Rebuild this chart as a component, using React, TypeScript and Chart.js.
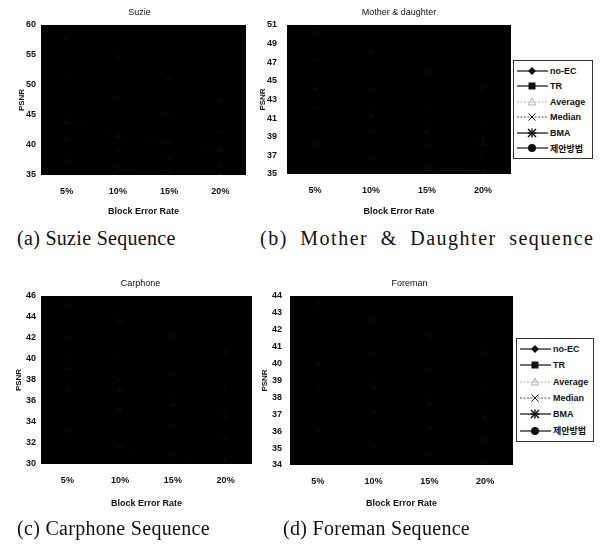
import React, { useEffect, useRef } from "react";
import { Chart, registerables } from "chart.js";
Chart.register(...registerables);

// ---------- data ----------
const categories = ["5%", "10%", "15%", "20%"];
const seriesNames = ["no-EC", "TR", "Average", "Median", "BMA", "제안방법"];

const suzieNoEC = [37.5, 36.2, 35.7, 35.3];
const suzieTR = [41.0, 39.2, 37.9, 36.6];
const suzieAverage = [43.8, 41.4, 40.4, 39.2];
const suzieMedian = [44.6, 41.9, 40.9, 39.6];
const suzieBMA = [51.5, 47.8, 45.0, 42.2];
const suzieProposed = [57.8, 54.6, 51.2, 47.4];

const motherNoEC = [38.2, 36.6, 35.8, 35.3];
const motherTR = [42.0, 39.6, 38.1, 37.0];
const motherAverage = [44.1, 41.2, 39.5, 38.2];
const motherMedian = [45.0, 42.1, 40.2, 38.8];
const motherBMA = [47.2, 44.1, 42.2, 40.5];
const motherProposed = [50.2, 48.1, 46.0, 44.1];

const carphoneNoEC = [33.1, 31.6, 30.8, 30.3];
const carphoneTR = [37.0, 35.1, 33.6, 32.5];
const carphoneAverage = [39.1, 37.0, 35.6, 34.5];
const carphoneMedian = [40.0, 38.0, 36.5, 35.1];
const carphoneBMA = [42.1, 40.0, 38.6, 37.1];
const carphoneProposed = [45.1, 43.6, 42.1, 40.6];

const foremanNoEC = [36.1, 35.1, 34.6, 34.2];
const foremanTR = [38.6, 37.1, 36.2, 35.5];
const foremanAverage = [40.0, 38.6, 37.6, 36.8];
const foremanMedian = [40.6, 39.1, 38.1, 37.2];
const foremanBMA = [42.1, 40.6, 39.6, 38.6];
const foremanProposed = [43.6, 42.6, 41.6, 40.6];

const suzieTicks = { min: 35, max: 60, step: 5 };
const motherTicks = { min: 35, max: 51, step: 2 };
const carphoneTicks = { min: 30, max: 46, step: 2 };
const foremanTicks = { min: 34, max: 44, step: 1 };

// ---------- styles ----------
const seriesStyles = [
  { color: "#060606", dash: [], point: "rectRot" },
  { color: "#060606", dash: [], point: "rect" },
  { color: "#0a0a0a", dash: [2, 2], point: "triangle" },
  { color: "#080808", dash: [2, 2], point: "crossRot" },
  { color: "#060606", dash: [], point: "star" },
  { color: "#060606", dash: [], point: "circle" },
];

const SANS = "'Liberation Sans', Arial, 'Noto Sans CJK KR', sans-serif";
Chart.defaults.font.family = SANS;
Chart.defaults.color = "#111";

const panelPlugin = {
  id: "panelDeco",
  beforeDatasetsDraw(chart: any) {
    const { ctx, chartArea: a } = chart;
    ctx.save();
    ctx.fillStyle = "#000";
    ctx.fillRect(a.left, a.top, a.right - a.left, a.bottom - a.top);
    ctx.restore();
  },
  afterDraw(chart: any, _args: any, opts: any) {
    const { ctx, chartArea: a } = chart;
    ctx.save();
    ctx.font = `9px ${SANS}`;
    ctx.fillStyle = "#111";
    ctx.textAlign = "center";
    ctx.textBaseline = "middle";
    ctx.fillText(opts.text, (a.left + a.right) / 2 + (opts.dx || 0), a.top - 12);
    ctx.restore();
  },
};

type PanelProps = {
  left: number; top: number; width: number; height: number;
  areaLeft: number; areaRight: number; areaTop: number; areaBottom: number;
  yTitleCenter: number; yTickPad: number;
  title: string; titleDx?: number;
  series: number[][];
  ticks: { min: number; max: number; step: number };
};

function Panel(p: PanelProps) {
  const ref = useRef<HTMLCanvasElement>(null);
  useEffect(() => {
    if (!ref.current) return;
    const yW = p.areaLeft;
    const xH = p.height - p.areaBottom;
    const chart = new Chart(ref.current, {
      type: "line",
      data: {
        labels: categories,
        datasets: p.series.map((vals, i) => ({
          label: seriesNames[i],
          data: vals,
          borderColor: seriesStyles[i].color,
          backgroundColor: seriesStyles[i].color,
          borderDash: seriesStyles[i].dash,
          borderWidth: 1,
          pointStyle: seriesStyles[i].point as any,
          pointRadius: 3,
          tension: 0,
        })),
      },
      options: {
        animation: false,
        responsive: false,
        devicePixelRatio: 1,
        layout: { padding: { left: 0, top: p.areaTop, right: p.width - p.areaRight, bottom: 0 } },
        plugins: {
          legend: { display: false },
          tooltip: { enabled: false },
          panelDeco: { text: p.title, dx: p.titleDx || 0 },
        } as any,
        scales: {
          x: {
            type: "category",
            offset: true,
            grid: { display: false, drawTicks: false },
            border: { display: false },
            ticks: { padding: 11, font: { size: 9, weight: "bold" }, color: "#111" },
            title: { display: true, text: "Block Error Rate", font: { size: 9, weight: "bold" }, color: "#111", padding: { top: 0, bottom: 9 } },
            afterFit: (s: any) => { s.height = xH; },
          },
          y: {
            type: "linear",
            min: p.ticks.min,
            max: p.ticks.max,
            grid: { display: false, drawTicks: false },
            border: { display: false },
            ticks: { stepSize: p.ticks.step, padding: p.yTickPad, font: { size: 9, weight: "bold" }, color: "#111" },
            title: { display: true, text: "PSNR", font: { size: 8, weight: "bold" }, color: "#111", padding: { top: Math.max(0, p.yTitleCenter - 4.8), bottom: 0 } },
            afterFit: (s: any) => { s.width = yW; },
          },
        },
      },
      plugins: [panelPlugin as any],
    });
    return () => chart.destroy();
  }, []);
  return (
    <canvas
      ref={ref}
      width={p.width}
      height={p.height}
      style={{ position: "absolute", left: p.left, top: p.top, width: p.width, height: p.height }}
    />
  );
}

function Marker({ kind, color }: { kind: string; color: string }) {
  const cx = 16, cy = 6;
  switch (kind) {
    case "rectRot":
      return <polygon points={`${cx},${cy - 4} ${cx + 4},${cy} ${cx},${cy + 4} ${cx - 4},${cy}`} fill={color} />;
    case "rect":
      return <rect x={cx - 3.5} y={cy - 3.5} width={7} height={7} fill={color} />;
    case "triangle":
      return <polygon points={`${cx},${cy - 4} ${cx + 3.5},${cy + 3} ${cx - 3.5},${cy + 3}`} fill="none" stroke="#999" strokeWidth={0.8} />;
    case "crossRot":
      return <g stroke={color} strokeWidth={1}><line x1={cx - 3.5} y1={cy - 3.5} x2={cx + 3.5} y2={cy + 3.5} /><line x1={cx - 3.5} y1={cy + 3.5} x2={cx + 3.5} y2={cy - 3.5} /></g>;
    case "star":
      return <g stroke={color} strokeWidth={1.4}><line x1={cx - 4} y1={cy - 4} x2={cx + 4} y2={cy + 4} /><line x1={cx - 4} y1={cy + 4} x2={cx + 4} y2={cy - 4} /><line x1={cx} y1={cy - 4.5} x2={cx} y2={cy + 4.5} /><line x1={cx - 4.5} y1={cy} x2={cx + 4.5} y2={cy} /></g>;
    default:
      return <circle cx={cx} cy={cy} r={4} fill={color} />;
  }
}

function LegendBox({ left, top, width, height }: { left: number; top: number; width: number; height: number }) {
  return (
    <div
      style={{
        position: "absolute", left, top, width, height, boxSizing: "border-box",
        border: "1px solid #333", background: "#fff", display: "flex", flexDirection: "column",
        justifyContent: "space-around", padding: "2px 0",
      }}
    >
      {seriesNames.map((n, i) => {
        const st = seriesStyles[i];
        const lineColor = i === 2 ? "#999" : "#222";
        return (
          <div key={n} style={{ display: "flex", alignItems: "center", height: 12 }}>
            <svg width={34} height={12} style={{ marginLeft: 2, flex: "none" }}>
              <line x1={1} y1={6} x2={32} y2={6} stroke={lineColor} strokeWidth={i === 2 || i === 3 ? 0.8 : 1.3}
                strokeDasharray={st.dash.length ? "2,1.5" : undefined} />
              <Marker kind={st.point} color="#111" />
            </svg>
            <span style={{ font: `bold 9px ${SANS}`, color: "#111", whiteSpace: "nowrap", marginLeft: 0 }}>{n}</span>
          </div>
        );
      })}
    </div>
  );
}

const captionStyle: React.CSSProperties = {
  position: "absolute", fontFamily: "'Liberation Serif', 'Times New Roman', serif", fontSize: 20,
  lineHeight: "24px", color: "#111", whiteSpace: "nowrap",
};

export default function App() {
  return (
    <div style={{ position: "absolute", left: 0, top: 0, width: 601, height: 547, background: "#fff", overflow: "hidden" }}>
      <Panel left={0} top={0} width={256} height={226} areaLeft={41} areaRight={246} areaTop={25} areaBottom={175}
        yTitleCenter={22} yTickPad={5} title="Suzie" titleDx={-4}
        series={[suzieNoEC, suzieTR, suzieAverage, suzieMedian, suzieBMA, suzieProposed]} ticks={suzieTicks} />
      <Panel left={256} top={0} width={262} height={226} areaLeft={31} areaRight={255} areaTop={25} areaBottom={174}
        yTitleCenter={7} yTickPad={10} title="Mother & daughter"
        series={[motherNoEC, motherTR, motherAverage, motherMedian, motherBMA, motherProposed]} ticks={motherTicks} />
      <Panel left={0} top={270} width={258} height={248} areaLeft={41} areaRight={252} areaTop={26} areaBottom={194}
        yTitleCenter={19} yTickPad={5} title="Carphone" titleDx={-6}
        series={[carphoneNoEC, carphoneTR, carphoneAverage, carphoneMedian, carphoneBMA, carphoneProposed]} ticks={carphoneTicks} />
      <Panel left={256} top={270} width={262} height={248} areaLeft={34} areaRight={257} areaTop={26} areaBottom={195}
        yTitleCenter={9} yTickPad={8} title="Foreman" titleDx={8}
        series={[foremanNoEC, foremanTR, foremanAverage, foremanMedian, foremanBMA, foremanProposed]} ticks={foremanTicks} />
      <LegendBox left={513} top={60} width={80} height={99} />
      <LegendBox left={516} top={338} width={78} height={104} />
      <div style={{ ...captionStyle, left: 17, top: 226, letterSpacing: 0.3 }}>(a) Suzie Sequence</div>
      <div style={{ ...captionStyle, left: 260, top: 226, letterSpacing: 1.5, wordSpacing: 6 }}>(b) Mother &amp; Daughter sequence</div>
      <div style={{ ...captionStyle, left: 17, top: 516, letterSpacing: 0.3 }}>(c) Carphone Sequence</div>
      <div style={{ ...captionStyle, left: 283, top: 516, letterSpacing: 0.3 }}>(d) Foreman Sequence</div>
    </div>
  );
}
